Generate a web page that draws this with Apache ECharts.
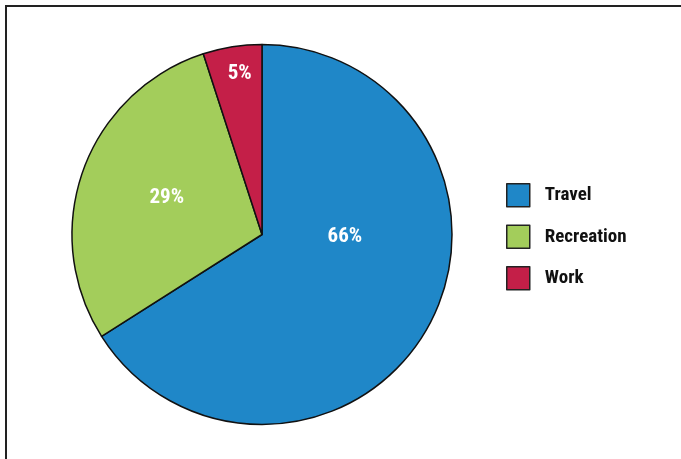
<!DOCTYPE html>
<html>
<head>
<meta charset="utf-8">
<script src="https://cdn.jsdelivr.net/npm/echarts@6/dist/echarts.min.js"></script>
<style>
    html, body { margin: 0; padding: 0; background: #fff; }
    #chart { width: 681px; height: 459px; }
</style>
</head>
<body>
<div id="chart"></div>
<script>
// data
var categories = ['Travel', 'Recreation', 'Work'];
var shares = [66, 29, 5];
var colors = ['#1f87c8', '#a3cd5b', '#c41f48'];
// labels sit at hand-picked spots inside the slices, not at mid radius
var labelOffsets = [[-3, -45], [-3, -4], [-7, -64]];

var FONT = "'Liberation Sans Narrow', 'Roboto Condensed', Roboto, 'Liberation Sans', sans-serif";

var myChart = echarts.init(document.getElementById('chart'));

var pieData = categories.map(function (name, i) {
    return {
        name: name,
        value: shares[i],
        itemStyle: { color: colors[i] },
        label: { offset: labelOffsets[i] }
    };
});

var option = {
    backgroundColor: '#fff',
    animation: false,
    legend: {
        orient: 'vertical',
        left: 506,
        top: 183,
        padding: 0,
        itemWidth: 23,
        itemHeight: 23,
        itemGap: 17,
        icon: 'rect',
        data: categories,
        itemStyle: { borderColor: '#222', borderWidth: 1.5 },
        textStyle: {
            fontFamily: FONT,
            fontSize: 19,
            lineHeight: 20,
            fontWeight: 'bold',
            color: '#111',
            padding: [0, 0, 0, 10]
        }
    },
    graphic: [
        {
            type: 'polyline',
            shape: { points: [[6, 459], [6, 6], [681, 6]] },
            style: { stroke: '#222', lineWidth: 2, fill: null }
        }
    ],
    series: [
        {
            type: 'pie',
            center: [262, 234.5],
            radius: 190,
            startAngle: 90,
            clockwise: true,
            silent: true,
            itemStyle: { borderColor: '#111', borderWidth: 1.5 },
            label: {
                show: true,
                position: 'inside',
                formatter: '{c}%',
                fontFamily: FONT,
                fontSize: 21,
                fontWeight: 'bold',
                color: '#fff'
            },
            labelLine: { show: false },
            data: pieData
        }
    ]
};

myChart.setOption(option, true);
</script>
</body>
</html>
